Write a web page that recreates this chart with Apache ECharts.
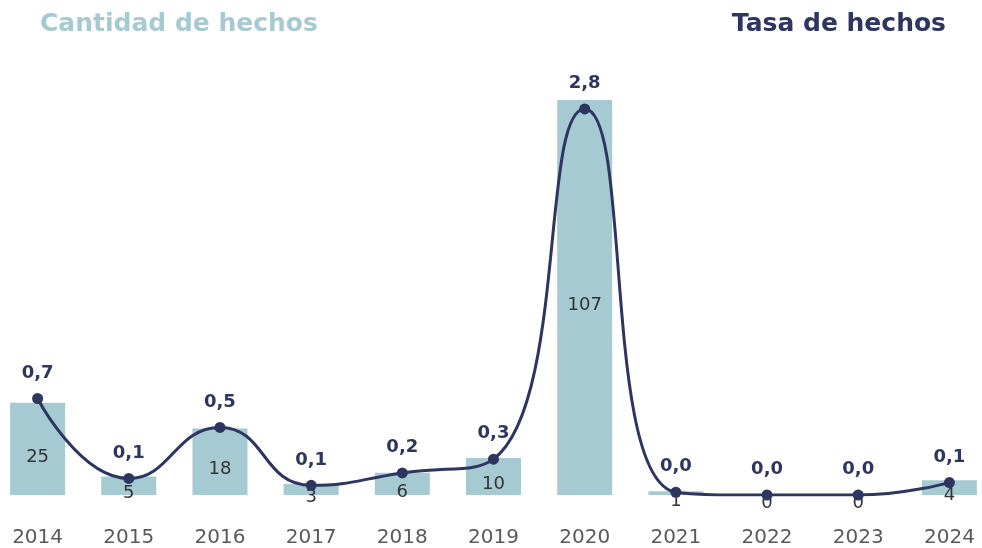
<!DOCTYPE html>
<html>
<head>
<meta charset="utf-8">
<script src="https://cdn.jsdelivr.net/npm/echarts@6/dist/echarts.min.js"></script>
<style>
	html, body { margin: 0; padding: 0; background: #fff; overflow: hidden; }
	/* el gráfico es algo más ancho que la ventana: las barras extremas tocan los bordes */
	#chart { width: 1003px; height: 548px; margin-left: -8px; }
</style>
</head>
<body>
<div id="chart"></div>
<script>
// años
var years = ['2014', '2015', '2016', '2017', '2018', '2019', '2020', '2021', '2022', '2023', '2024']
// cantidad de hechos (barras)
var cantidad = [25, 5, 18, 3, 6, 10, 107, 1, 0, 0, 4]
// tasa de hechos (línea)
var tasa = [0.7, 0.12, 0.49, 0.07, 0.16, 0.26, 2.8, 0.02, 0, 0, 0.09]

var barColor = '#a6cad2'
var lineColor = '#2e3560'
var font = 'DejaVu Sans'

function fmtComa(v) {
	return v.toFixed(1).replace('.', ',')
}

var chart = echarts.init(document.getElementById('chart'))
var option = {
	animation: false,
	title: [{
		text: 'Cantidad de hechos',
		left: 43,
		top: 7,
		textStyle: { color: barColor, fontSize: 25, fontWeight: 'bold', fontFamily: font }
	}, {
		text: 'Tasa de hechos',
		right: 44,
		top: 7,
		textStyle: { color: lineColor, fontSize: 25, fontWeight: 'bold', fontFamily: font }
	}],
	grid: { left: 0, right: 0, top: 60, bottom: 53 },
	xAxis: {
		type: 'category',
		data: years,
		axisLine: { show: false },
		axisTick: { show: false },
		axisLabel: { color: '#5a5a5a', fontSize: 20, margin: 33, fontFamily: font }
	},
	yAxis: [{
		type: 'value',
		min: 0,
		max: 117.8,
		show: false
	}, {
		type: 'value',
		min: 0,
		max: 3.155,
		show: false
	}],
	series: [{
		name: 'Cantidad de hechos',
		type: 'bar',
		data: cantidad,
		barWidth: 55,
		itemStyle: { color: barColor },
		label: {
			show: true,
			position: 'inside',
			offset: [0, 8],
			color: '#333',
			fontSize: 18,
			fontFamily: font
		}
	}, {
		name: 'Tasa de hechos',
		type: 'line',
		yAxisIndex: 1,
		data: tasa,
		smooth: true,
		symbol: 'circle',
		symbolSize: 11,
		lineStyle: { color: lineColor, width: 3 },
		itemStyle: { color: lineColor },
		label: {
			show: true,
			position: 'top',
			distance: 11,
			color: lineColor,
			fontSize: 18,
			fontWeight: 'bold',
			fontFamily: font,
			formatter: function (p) { return fmtComa(p.value) }
		}
	}]
}
chart.setOption(option)
</script>
</body>
</html>
